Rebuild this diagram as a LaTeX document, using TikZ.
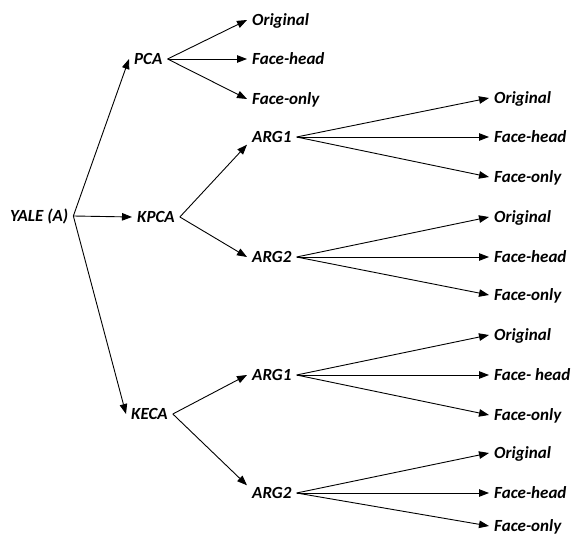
\documentclass[tikz,border=0pt]{standalone}
\usepackage{fontspec}
\setmainfont{Carlito}
\usetikzlibrary{arrows.meta}
\tikzset{lbl/.style={anchor=west,inner xsep=5pt,inner ysep=1pt,text height=12pt,text depth=1pt,font=\fontsize{17}{20}\selectfont\bfseries\itshape},
arr/.style={-{Triangle[length=10pt,width=7.5pt]},line width=0.9pt}}
\begin{document}
\begin{tikzpicture}[x=1pt,y=-1pt]
\useasboundingbox (0,0) rectangle (575,537);
\node[lbl] (yale) at (5,216) {YALE (A)};
\node[lbl] (pca) at (129,59) {PCA};
\node[lbl] (kpca) at (132,217) {KPCA};
\node[lbl] (keca) at (126,414) {KECA};

\node[lbl] (pcaO) at (247,20) {Original};
\node[lbl] (pcaH) at (247,59) {Face-head};
\node[lbl] (pcaF) at (247,99) {Face-only};

\node[lbl] (karg1) at (247,137) {ARG1};
\node[lbl] (karg2) at (247,257) {ARG2};
\node[lbl] (earg1) at (247,375) {ARG1};
\node[lbl] (earg2) at (247,493) {ARG2};

\node[lbl] (kaO) at (489,98) {Original};
\node[lbl] (kaH) at (489,137) {Face-head};
\node[lbl] (kaF) at (489,177) {Face-only};
\node[lbl] (kbO) at (489,217) {Original};
\node[lbl] (kbH) at (489,257) {Face-head};
\node[lbl] (kbF) at (489,295) {Face-only};
\node[lbl] (eaO) at (489,335) {Original};
\node[lbl] (eaH) at (489,375) {Face- head};
\node[lbl] (eaF) at (489,415) {Face-only};
\node[lbl] (ebO) at (489,453) {Original};
\node[lbl] (ebH) at (489,493) {Face-head};
\node[lbl] (ebF) at (489,526) {Face-only};

\draw[arr] (yale.east) -- (pca.west);
\draw[arr] (yale.east) -- (kpca.west);
\draw[arr] (yale.east) -- (keca.west);

\draw[arr] (pca.east) -- (pcaO.west);
\draw[arr] (pca.east) -- (pcaH.west);
\draw[arr] (pca.east) -- (pcaF.west);

\draw[arr] (kpca.east) -- (karg1.south west);
\draw[arr] (kpca.east) -- (karg2.west);
\draw[arr] (keca.east) -- (earg1.west);
\draw[arr] (keca.east) -- (earg2.north west);

\draw[arr] (karg1.east) -- (kaO.west);
\draw[arr] (karg1.east) -- (kaH.west);
\draw[arr] (karg1.east) -- (kaF.west);
\draw[arr] (karg2.east) -- (kbO.west);
\draw[arr] (karg2.east) -- (kbH.west);
\draw[arr] (karg2.east) -- (kbF.west);
\draw[arr] (earg1.east) -- (eaO.west);
\draw[arr] (earg1.east) -- (eaH.west);
\draw[arr] (earg1.east) -- (eaF.west);
\draw[arr] (earg2.east) -- (ebO.west);
\draw[arr] (earg2.east) -- (ebH.west);
\draw[arr] (earg2.east) -- (ebF.west);
\end{tikzpicture}
\end{document}
